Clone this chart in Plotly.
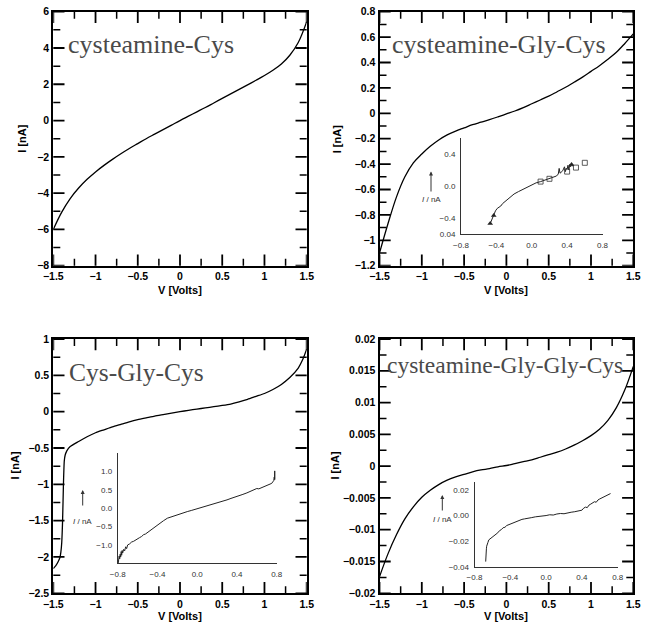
import plotly.graph_objects as go

W, H = 651, 622

# ---------------- data ----------------
V_MAIN = [-1.5, -1.4, -1.3, -1.2, -1.1, -1.0, -0.9, -0.8, -0.7, -0.6, -0.5, -0.4, -0.3, -0.2, -0.1, 0.0,
          0.1, 0.2, 0.3, 0.4, 0.5, 0.6, 0.7, 0.8, 0.9, 1.0, 1.1, 1.2, 1.3, 1.4, 1.5]

# Panel 1: cysteamine-Cys
I1 = [-6.0, -5.05, -4.3, -3.72, -3.24, -2.83, -2.47, -2.14, -1.83, -1.54, -1.27, -1.0, -0.75, -0.5, -0.25, 0.0,
      0.24, 0.48, 0.72, 0.97, 1.22, 1.47, 1.72, 1.97, 2.22, 2.48, 2.77, 3.12, 3.6, 4.3, 5.45]

# Panel 2: cysteamine-Gly-Cys
I2 = [-1.10, -0.87, -0.66, -0.50, -0.39, -0.32, -0.26, -0.21, -0.17, -0.14, -0.115, -0.09, -0.07, -0.05, -0.028, -0.005,
      0.018, 0.045, 0.075, 0.105, 0.135, 0.17, 0.205, 0.245, 0.285, 0.33, 0.375, 0.425, 0.48, 0.55, 0.625]

# Panel 3: Cys-Gly-Cys (sharp step near -1.4 V)
V3 = [-1.5, -1.47, -1.44, -1.42, -1.41, -1.40, -1.39, -1.38, -1.37, -1.36, -1.34, -1.3, -1.2, -1.1, -1.0, -0.9, -0.8,
      -0.7, -0.6, -0.5, -0.4, -0.3, -0.2, -0.1, 0.0, 0.1, 0.2, 0.3, 0.4, 0.5, 0.6, 0.7, 0.8, 0.9, 1.0, 1.1, 1.2, 1.3,
      1.4, 1.45, 1.5]
I3 = [-2.16, -2.12, -2.06, -2.0, -1.93, -1.8, -1.5, -1.0, -0.68, -0.6, -0.54, -0.48, -0.41, -0.345, -0.29, -0.25, -0.21,
      -0.175, -0.14, -0.11, -0.085, -0.06, -0.04, -0.02, 0.0, 0.018, 0.035, 0.052, 0.068, 0.085, 0.105, 0.135, 0.17, 0.21,
      0.25, 0.305, 0.375, 0.47, 0.6, 0.71, 0.86]

# Panel 4: cysteamine-Gly-Gly-Cys
I4 = [-0.0174, -0.0138, -0.0108, -0.0083, -0.0064, -0.0049, -0.0038, -0.0029, -0.0022, -0.0017, -0.0013, -0.0009,
      -0.0006, -0.0004, -0.0001, 0.0001, 0.0004, 0.0007, 0.0010, 0.0014, 0.0018, 0.0022, 0.0027, 0.0033, 0.0040,
      0.0048, 0.0058, 0.0072, 0.0092, 0.0120, 0.0157]

# Inset 2 (measured line + symbols)
V2i = [-0.47, -0.45, -0.43, -0.41, -0.39, -0.37, -0.35, -0.33, -0.30, -0.25, -0.20, -0.15, -0.10, -0.05, 0.0, 0.05, 0.10, 0.15, 0.20, 0.24, 0.28, 0.30, 0.31, 0.32, 0.33, 0.35, 0.37, 0.38, 0.39, 0.40, 0.41, 0.42, 0.43, 0.44, 0.45, 0.46, 0.47]
I2i = [-0.47, -0.41, -0.36, -0.31, -0.28, -0.27, -0.25, -0.22, -0.19, -0.14, -0.10, -0.07, -0.04, -0.01, 0.02, 0.04, 0.055, 0.075, 0.09, 0.11, 0.125, 0.15, 0.22, 0.16, 0.17, 0.19, 0.24, 0.18, 0.22, 0.21, 0.26, 0.20, 0.27, 0.24, 0.28, 0.25, 0.26]
V2sq = [0.10, 0.20, 0.40, 0.50, 0.60]
I2sq = [0.055, 0.09, 0.18, 0.23, 0.29]
V2tri = [-0.47, -0.43, 0.45]
I2tri = [-0.47, -0.37, 0.27]

# Inset 3
V3i = [-0.795, -0.79, -0.785, -0.78, -0.775, -0.77, -0.765, -0.76, -0.755, -0.75, -0.74, -0.73, -0.72, -0.71, -0.70, -0.68, -0.66, -0.64, -0.62, -0.60, -0.58, -0.56, -0.54, -0.52, -0.50, -0.48, -0.46, -0.44, -0.42, -0.40, -0.37, -0.34, -0.30, -0.26, -0.22, -0.18, -0.14, -0.10, -0.06, -0.02, 0.02, 0.06, 0.10, 0.14, 0.18, 0.22, 0.26, 0.30, 0.34, 0.38, 0.42, 0.46, 0.50, 0.54, 0.58, 0.60, 0.62, 0.66, 0.70, 0.73, 0.75, 0.76, 0.77, 0.775, 0.78, 0.78, 0.785, 0.78]
I3i = [-1.50, -1.42, -1.30, -1.38, -1.25, -1.33, -1.18, -1.28, -1.15, -1.22, -1.12, -1.16, -1.05, -1.10, -1.00, -0.97, -0.92, -0.90, -0.86, -0.84, -0.80, -0.77, -0.72, -0.70, -0.66, -0.60, -0.58, -0.54, -0.50, -0.46, -0.40, -0.34, -0.27, -0.23, -0.19, -0.16, -0.12, -0.09, -0.06, -0.03, 0.00, 0.03, 0.07, 0.10, 0.13, 0.16, 0.19, 0.23, 0.27, 0.30, 0.34, 0.38, 0.42, 0.46, 0.50, 0.54, 0.53, 0.58, 0.62, 0.66, 0.68, 0.72, 0.75, 0.85, 0.78, 1.02, 0.82, 0.80]

# Inset 4
V4i = [-0.675, -0.674, -0.672, -0.670, -0.667, -0.664, -0.66, -0.65, -0.64, -0.62, -0.60, -0.58, -0.56, -0.54, -0.52, -0.50, -0.48, -0.46, -0.44, -0.42, -0.40, -0.38, -0.36, -0.33, -0.30, -0.27, -0.24, -0.20, -0.16, -0.12, -0.08, -0.04, 0.0, 0.04, 0.08, 0.12, 0.16, 0.20, 0.24, 0.28, 0.32, 0.36, 0.40, 0.42, 0.44, 0.46, 0.48, 0.50, 0.52, 0.54, 0.56, 0.58, 0.60, 0.62, 0.64, 0.66, 0.68, 0.70, 0.72]
I4i = [-0.036, -0.031, -0.034, -0.028, -0.026, -0.024, -0.022, -0.021, -0.019, -0.018, -0.0165, -0.0155, -0.0148, -0.0135, -0.0118, -0.011, -0.0095, -0.0092, -0.0078, -0.0072, -0.0066, -0.0058, -0.0052, -0.0044, -0.0038, -0.003, -0.0026, -0.0018, -0.0016, -0.001, -0.0008, -0.0002, 0.0, 0.0006, 0.0004, 0.0012, 0.0016, 0.0014, 0.0022, 0.0026, 0.003, 0.0034, 0.0042, 0.0058, 0.0066, 0.0062, 0.0082, 0.009, 0.0096, 0.0108, 0.0104, 0.0122, 0.013, 0.0138, 0.0146, 0.0152, 0.0158, 0.0166, 0.0172]

TITLES = ["cysteamine-Cys", "cysteamine-Gly-Cys", "Cys-Gly-Cys", "cysteamine-Gly-Gly-Cys"]

X_TICKS = [-1.5, -1.0, -0.5, 0.0, 0.5, 1.0, 1.5]
X_TICKTEXT = ["\u22121.5", "\u22121", "\u22120.5", "0", "0.5", "1", "1.5"]
X_MINOR = [-1.25, -0.75, -0.25, 0.25, 0.75, 1.25]
Y1_TICKS = [-8, -6, -4, -2, 0, 2, 4, 6]
Y1_TEXT = ["\u22128", "\u22126", "\u22124", "\u22122", "0", "2", "4", "6"]
Y1_MINOR = [-7, -5, -3, -1, 1, 3, 5]
Y2_TICKS = [-1.2, -1.0, -0.8, -0.6, -0.4, -0.2, 0.0, 0.2, 0.4, 0.6, 0.8]
Y2_TEXT = ["\u22121.2", "\u22121", "\u22120.8", "\u22120.6", "\u22120.4", "\u22120.2", "0", "0.2", "0.4", "0.6", "0.8"]
Y2_MINOR = [-1.1, -0.9, -0.7, -0.5, -0.3, -0.1, 0.1, 0.3, 0.5, 0.7]
Y3_TICKS = [-2.5, -2.0, -1.5, -1.0, -0.5, 0.0, 0.5, 1.0]
Y3_TEXT = ["\u22122.5", "\u22122", "\u22121.5", "\u22121", "\u22120.5", "0", "0.5", "1"]
Y3_MINOR = [-2.25, -1.75, -1.25, -0.75, -0.25, 0.25, 0.75]
Y4_TICKS = [-0.02, -0.015, -0.01, -0.005, 0.0, 0.005, 0.01, 0.015, 0.02]
Y4_TEXT = ["\u22120.02", "\u22120.015", "\u22120.01", "\u22120.005", "0", "0.005", "0.01", "0.015", "0.02"]
Y4_MINOR = [-0.0175, -0.0125, -0.0075, -0.0025, 0.0025, 0.0075, 0.0125, 0.0175]

IX_TICKS = [-0.8, -0.4, 0.0, 0.4, 0.8]
IX_TEXT = ["\u22120.8", "\u22120.4", "0.0", "0.4", "0.8"]
IX_MINOR = [-0.6, -0.2, 0.2, 0.6]
IY2_TICKS = [-0.6, -0.4, 0.0, 0.4]
IY2_TEXT = ["0.04", "\u22120.4", "0.0", "0.4"]
IY2_MINOR = [-0.5, -0.3, -0.2, -0.1, 0.1, 0.2, 0.3, 0.5]
IY3_TICKS = [-1.0, -0.5, 0.0, 0.5, 1.0]
IY3_TEXT = ["\u22121.0", "\u22120.5", "0.0", "0.5", "1.0"]
IY3_MINOR = [-1.25, -0.75, -0.25, 0.25, 0.75, 1.25]
IY4_TICKS = [-0.04, -0.02, 0.0, 0.02]
IY4_TEXT = ["\u22120.04", "\u22120.02", "0.00", "0.02"]
IY4_MINOR = [-0.03, -0.01, 0.01]

# ---------------- helpers ----------------
def px_x(p):
    return p / W

def px_y(p):
    return 1 - p / H

def ax_name(kind, n):
    return f"{kind}{'' if n == 1 else n}"

fig = go.Figure()

line_main = dict(color="black", width=1.3, shape="spline", smoothing=1.0)
line_p3 = dict(color="black", width=1.3, shape="spline", smoothing=0.6)
mains = [(V_MAIN, I1, line_main), (V_MAIN, I2, line_main), (V3, I3, line_p3), (V_MAIN, I4, line_main)]
for k, (vx, iy, ln) in enumerate(mains):
    n = k + 1
    fig.add_trace(go.Scatter(x=vx, y=iy, mode="lines", line=ln,
                             xaxis=ax_name("x", n), yaxis=ax_name("y", n),
                             showlegend=False, hoverinfo="skip"))

ins_line = dict(color="#222", width=1.0)
fig.add_trace(go.Scatter(x=V2i, y=I2i, mode="lines", line=ins_line, xaxis="x5", yaxis="y5", showlegend=False))
fig.add_trace(go.Scatter(x=V2sq, y=I2sq, mode="markers",
                         marker=dict(symbol="square-open", size=5, color="#333", line=dict(width=0.8)),
                         xaxis="x5", yaxis="y5", showlegend=False))
fig.add_trace(go.Scatter(x=V2tri, y=I2tri, mode="markers", marker=dict(symbol="triangle-up", size=5, color="#222"),
                         xaxis="x5", yaxis="y5", showlegend=False))
fig.add_trace(go.Scatter(x=V3i, y=I3i, mode="lines", line=ins_line, xaxis="x6", yaxis="y6", showlegend=False))
fig.add_trace(go.Scatter(x=V4i, y=I4i, mode="lines", line=ins_line, xaxis="x7", yaxis="y7", showlegend=False))

tick_font = dict(family="Liberation Sans", size=10.5, color="black", weight="bold")
ins_font = dict(family="Liberation Sans", size=8, color="#333")

def main_axis(domain, anchor, rng, vals, text):
    return dict(domain=domain, anchor=anchor, range=rng, tickmode="array", automargin=False,
                tickvals=vals, ticktext=text, ticks="",
                showline=True, linewidth=2, linecolor="black", mirror=True, layer="above traces",
                showgrid=False, zeroline=False, tickfont=tick_font)

def ins_axis(domain, anchor, rng, vals, text):
    return dict(domain=domain, anchor=anchor, range=rng, tickmode="array", automargin=False,
                tickvals=vals, ticktext=text, ticks="", ticklabelstandoff=3,
                showline=True, linewidth=1, linecolor="#333", mirror=False, layer="above traces",
                showgrid=False, zeroline=False, tickfont=ins_font)

# Tick marks drawn as line-shaped markers.
def tick_marks(xa, ya, xs, ys, symbol, size, width, color, clip):
    fig.add_trace(go.Scatter(x=xs, y=ys, mode="markers", xaxis=xa, yaxis=ya, cliponaxis=clip,
                             marker=dict(symbol=symbol, size=size, color=color,
                                         line=dict(width=width, color=color)),
                             showlegend=False, hoverinfo="skip"))

# main panel domains (pixels)
L1, R1 = 53.3, 306.7
L2, R2 = 379.5, 633.3
T_top, B_top = 11.7, 265.7
T_bot, B_bot = 339.0, 593.3

dxl = [px_x(L1), px_x(R1)]
dxr = [px_x(L2), px_x(R2)]
dyt = [px_y(B_top), px_y(T_top)]
dyb = [px_y(B_bot), px_y(T_bot)]

XR = [-1.5, 1.5]
panels = [
    (dxl, dyt, [-8, 6], Y1_TICKS, Y1_TEXT, Y1_MINOR),
    (dxr, dyt, [-1.2, 0.8], Y2_TICKS, Y2_TEXT, Y2_MINOR),
    (dxl, dyb, [-2.5, 1.0], Y3_TICKS, Y3_TEXT, Y3_MINOR),
    (dxr, dyb, [-0.02, 0.02], Y4_TICKS, Y4_TEXT, Y4_MINOR),
]

layout = dict(
    template="none",
    width=W, height=H, autosize=False,
    margin=dict(l=0, r=0, t=0, b=0, pad=0),
    paper_bgcolor="white", plot_bgcolor="rgba(0,0,0,0)",
    showlegend=False,
    font=dict(family="Liberation Sans", color="black"),
)

# main frame ticks: markers centred on the frame, clipped to the plot area -> inward ticks
for k, (dx, dy, yr, yv, yt, ym) in enumerate(panels):
    n = k + 1
    xa, ya = ax_name("x", n), ax_name("y", n)
    layout[ax_name("xaxis", n)] = main_axis(dx, ya, XR, X_TICKS, X_TICKTEXT)
    layout[ax_name("yaxis", n)] = main_axis(dy, xa, yr, yv, yt)
    for vals, size, width in [(X_TICKS, 16, 1.8), (X_MINOR, 10, 1.5)]:
        tick_marks(xa, ya, vals + vals, [yr[0]] * len(vals) + [yr[1]] * len(vals),
                   "line-ns-open", size, width, "black", True)
    for vals, size, width in [(yv, 16, 1.8), (ym, 10, 1.5)]:
        tick_marks(xa, ya, [XR[0]] * len(vals) + [XR[1]] * len(vals), vals + vals,
                   "line-ew-open", size, width, "black", True)

insets = [
    (5, [461.0, 602.5], [234.0, 138.0], [-0.6, 0.6], IY2_TICKS, IY2_TEXT, IY2_MINOR),
    (6, [117.7, 276.7], [563.3, 453.3], [-1.5, 1.5], IY3_TICKS, IY3_TEXT, IY3_MINOR),
    (7, [474.5, 617.7], [566.7, 482.3], [-0.04, 0.026], IY4_TICKS, IY4_TEXT, IY4_MINOR),
]
IXR = [-0.8, 0.8]
for (n, xd, yd, yr, yv, yt, ym) in insets:
    xa, ya = f"x{n}", f"y{n}"
    layout[f"xaxis{n}"] = ins_axis([px_x(xd[0]), px_x(xd[1])], ya, IXR, IX_TICKS, IX_TEXT)
    layout[f"yaxis{n}"] = ins_axis([px_y(yd[0]), px_y(yd[1])], xa, yr, yv, yt)
    w_px, h_px = xd[1] - xd[0], yd[0] - yd[1]
    per_px_y = (yr[1] - yr[0]) / h_px
    per_px_x = (IXR[1] - IXR[0]) / w_px
    # outward ticks: marker centre shifted by half its length below / left of the axis line
    for vals, size in [(IX_TICKS, 3.5), (IX_MINOR, 2.2)]:
        tick_marks(xa, ya, vals, [yr[0] - per_px_y * size / 2] * len(vals),
                   "line-ns-open", size, 1.0, "#333", False)
    for vals, size in [(yv, 3.5), (ym, 2.2)]:
        tick_marks(xa, ya, [IXR[0] - per_px_x * size / 2] * len(vals), vals,
                   "line-ew-open", size, 1.0, "#333", False)

fig.update_layout(**layout)

ann = []
title_font = dict(family="Liberation Serif", color="#4a4a4a")
title_pos = [(65.7, 44.5, 26), (390.0, 44.5, 26), (66.7, 372.5, 25.5), (385.0, 364.5, 23.5)]
for t, (x0, y0, fs) in zip(TITLES, title_pos):
    f = dict(title_font); f["size"] = fs
    ann.append(dict(text=t, x=px_x(x0), y=px_y(y0), xref="paper", yref="paper",
                    xanchor="left", yanchor="middle", showarrow=False, font=f))

lab_font = dict(family="Liberation Sans", size=11, color="black", weight="bold")
for (xc, yc) in [(180, 290), (506, 290), (180, 615.5), (506, 615.5)]:
    ann.append(dict(text="V [Volts]", x=px_x(xc), y=px_y(yc), xref="paper", yref="paper",
                    xanchor="center", yanchor="middle", showarrow=False, font=lab_font))
for (xc, yc) in [(21.7, 139), (337.3, 139), (14.5, 466), (334.5, 466)]:
    ann.append(dict(text="I [nA]", x=px_x(xc), y=px_y(yc), xref="paper", yref="paper",
                    xanchor="center", yanchor="middle", textangle=-90, showarrow=False, font=lab_font))

# inset "I / nA" labels with arrows
for (xa_, ytip, ytail, ytext) in [(431.0, 171.5, 193.0, 199.5), (82.7, 490.0, 507.0, 521.5), (442.3, 495.0, 512.0, 519.5)]:
    ann.append(dict(text="", x=px_x(xa_), y=px_y(ytip), xref="paper", yref="paper",
                    ax=0, ay=ytail - ytip, showarrow=True, arrowhead=2, arrowsize=0.8,
                    arrowwidth=1, arrowcolor="#333"))
    ann.append(dict(text="<i>I</i> / nA", x=px_x(xa_), y=px_y(ytext), xref="paper", yref="paper",
                    xanchor="center", yanchor="middle", showarrow=False,
                    font=dict(family="Liberation Sans", size=8, color="#333")))

fig.update_layout(annotations=ann)
fig.write_html("out.html")
